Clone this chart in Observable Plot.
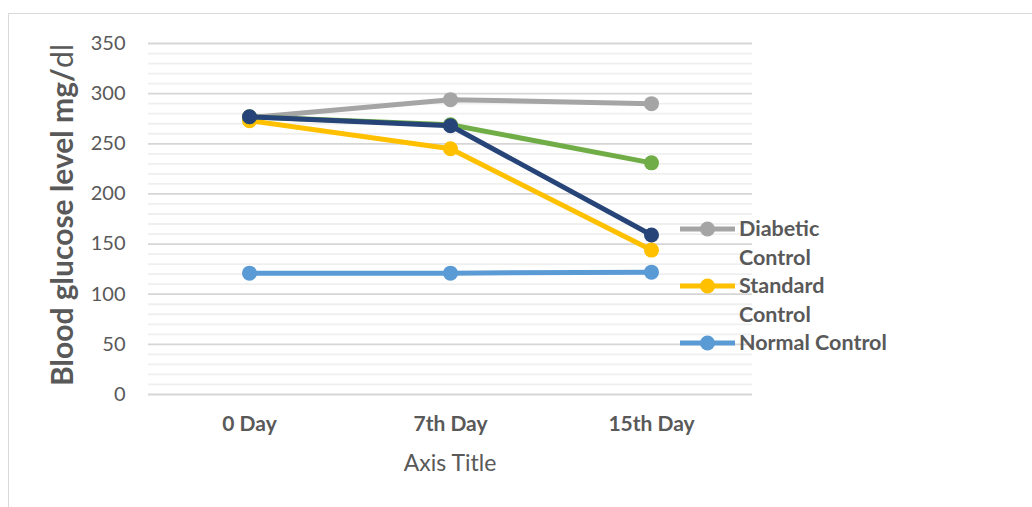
<!DOCTYPE html>
<html>
<head>
<meta charset="utf-8">
<script src="https://cdn.jsdelivr.net/npm/d3@7"></script>
<script src="https://cdn.jsdelivr.net/npm/@observablehq/plot@0.6"></script>
<style>
  html, body { margin: 0; padding: 0; background: #fff; }
  #chart { position: relative; width: 1032px; height: 507px; overflow: hidden; font-family: Lato, sans-serif; }
  #frame { position: absolute; left: 8px; top: 13px; width: 1100px; height: 600px; border: 1.5px solid #d9d9d9; box-sizing: border-box; }
  #chart svg { position: absolute; left: 0; top: 0; }
</style>
</head>
<body>
<div id="chart"><div id="frame"></div></div>
<script>
// Measurement days (x categories)
const days = ["0 Day", "7th Day", "15th Day"];

// Series, in drawing order (later series are drawn on top)
const seriesNames = ["Diabetic Control", "Standard Control", "Normal Control", "Test Group A", "Test Group B"];
const seriesColors = ["#A5A5A5", "#FFC000", "#5B9BD5", "#70AD47", "#264478"];

// Blood glucose (mg/dl) per day for each series
const diabeticControl = [276, 294, 290];
const standardControl = [273, 245, 144];
const normalControl = [121, 121, 122];
const testGroupA = [277, 269, 231];
const testGroupB = [277, 268, 159];

// Axis ticks and legend entries
const yTicks = [0, 50, 100, 150, 200, 250, 300, 350];
const yMinorTicks = [10, 20, 30, 40, 60, 70, 80, 90, 110, 120, 130, 140, 160, 170, 180, 190,
                     210, 220, 230, 240, 260, 270, 280, 290, 310, 320, 330, 340];
const legendEntries = [
  { series: "Diabetic Control", lines: ["Diabetic", "Control"] },
  { series: "Standard Control", lines: ["Standard", "Control"] },
  { series: "Normal Control", lines: ["Normal Control"] }
];

const seriesValues = [diabeticControl, standardControl, normalControl, testGroupA, testGroupB];
const rows = seriesNames.flatMap((name, i) =>
  days.map((day, j) => ({ series: name, day, value: seriesValues[i][j] }))
);

const textColor = "#595959";

const seriesMarks = seriesNames.flatMap(name => {
  const data = rows.filter(d => d.series === name);
  return [
    Plot.line(data, { x: "day", y: "value", stroke: "series", strokeWidth: 5, strokeLinejoin: "round" }),
    Plot.dot(data, { x: "day", y: "value", fill: "series", r: 7.5 })
  ];
});

const plot = Plot.plot({
  width: 1032,
  height: 507,
  marginLeft: 148,
  marginRight: 280,
  marginTop: 43,
  marginBottom: 113,
  style: { fontFamily: "Lato, sans-serif", background: "transparent", overflow: "visible" },
  x: { type: "point", domain: days, padding: 0.5, label: null },
  y: { domain: [0, 350], label: null },
  color: { domain: seriesNames, range: seriesColors },
  marks: [
    Plot.ruleY(yMinorTicks, { stroke: "#EFEFEF", strokeWidth: 1.8 }),
    Plot.ruleY(yTicks, { stroke: "#D6D6D6", strokeWidth: 1.8 }),
    Plot.axisY(yTicks, { tickSize: 0, tickPadding: 23, fontSize: 20, fill: textColor, label: null }),
    Plot.axisX({ tickSize: 0, tickPadding: 22, fontSize: 21, fontWeight: "bold", fill: textColor, label: null }),
    ...seriesMarks
  ]
});

document.getElementById("chart").appendChild(plot);

const svg = d3.select(plot);
const color = plot.scale("color");

// Axis titles
svg.append("text")
  .attr("x", 450).attr("y", 471)
  .attr("text-anchor", "middle")
  .attr("font-size", 23)
  .attr("fill", textColor)
  .text("Axis Title");

const yTitle = svg.append("text")
  .attr("transform", "translate(73,215) rotate(-90)")
  .attr("text-anchor", "middle")
  .attr("font-size", 30)
  .attr("font-weight", "bold")
  .attr("fill", textColor);
yTitle.append("tspan").text("Blood glucose level mg/");
yTitle.append("tspan").attr("font-weight", "normal").text("dl");

// Legend (right side)
const legend = svg.append("g")
  .attr("font-size", 21.5)
  .attr("font-weight", "bold")
  .attr("text-anchor", "start")
  .attr("fill", textColor);
let rowY = 229;
legendEntries.forEach(entry => {
  const c = color.apply(entry.series);
  legend.append("line")
    .attr("x1", 680).attr("x2", 735).attr("y1", rowY).attr("y2", rowY)
    .attr("stroke", c).attr("stroke-width", 5);
  legend.append("circle").attr("cx", 707.5).attr("cy", rowY).attr("r", 7.5).attr("fill", c);
  entry.lines.forEach((line, k) => {
    legend.append("text")
      .attr("x", 739).attr("y", rowY + 7 + k * 28.5)
      .text(line);
  });
  rowY += 57;
});
</script>
</body>
</html>
